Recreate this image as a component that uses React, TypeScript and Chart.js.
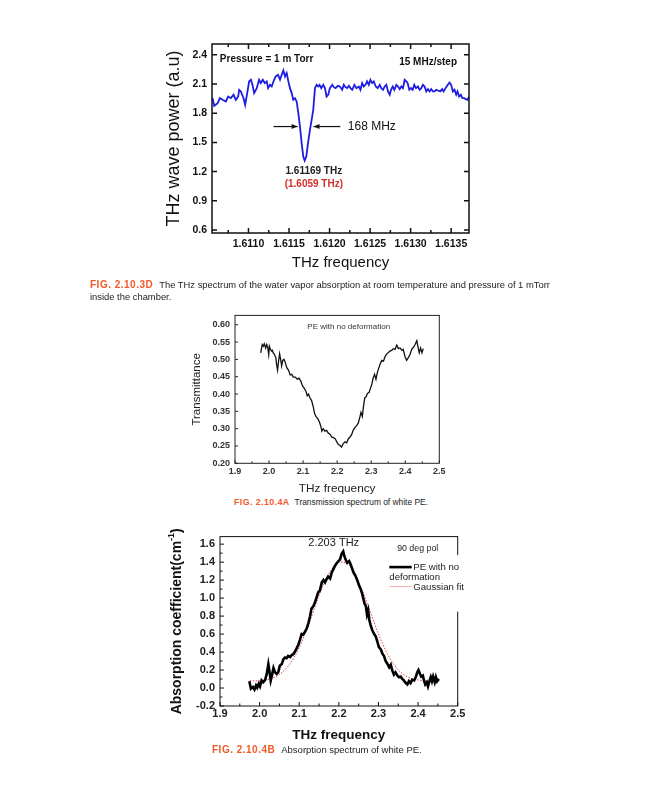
import React, { useEffect, useRef } from "react";
import { Chart, registerables } from "chart.js";
Chart.register(...registerables);

const FONT = '"Liberation Sans", Arial, Helvetica, sans-serif';

// ---------------- FIG. 2.10.3D : water vapour absorption ----------------
const WV_FREQ = [
  1.610557, 1.610578, 1.610619, 1.610648, 1.61068, 1.610721, 1.61075, 1.610783, 1.610816, 1.610844,
  1.610873, 1.610885, 1.610906, 1.610939, 1.610959, 1.610988, 1.611008, 1.611029, 1.611049, 1.61107,
  1.611102, 1.611131, 1.611152, 1.611176, 1.611201, 1.611225, 1.611242, 1.611266, 1.611287, 1.611316,
  1.611336, 1.611365, 1.611389, 1.61141, 1.61143, 1.611451, 1.611471, 1.611492, 1.611512, 1.611533,
  1.611553, 1.611574, 1.611594, 1.611615, 1.611635, 1.611656, 1.611676, 1.611693, 1.611713, 1.611734,
  1.611758, 1.611779, 1.611799, 1.61182, 1.61184, 1.611861, 1.611877, 1.611898, 1.611922, 1.611943,
  1.611963, 1.611984, 1.612004, 1.612033, 1.612053, 1.612074, 1.612103, 1.612127, 1.612156, 1.612176,
  1.612197, 1.612217, 1.612238, 1.612258, 1.612279, 1.612307, 1.612332, 1.612361, 1.612381, 1.612402,
  1.612422, 1.612443, 1.612463, 1.612484, 1.612504, 1.612525, 1.612545, 1.61257, 1.612594, 1.612619,
  1.612639, 1.61266, 1.61268, 1.612701, 1.612721, 1.612742, 1.612758, 1.612779, 1.612799, 1.612824,
  1.612844, 1.612865, 1.612885, 1.612906, 1.612926, 1.612947, 1.612963, 1.612984, 1.613004, 1.613025,
  1.613045, 1.613066, 1.61309, 1.613111, 1.613131, 1.613152, 1.613172, 1.613193, 1.613213, 1.613234,
  1.613254, 1.613275, 1.613295, 1.613316, 1.613336, 1.613365, 1.613389, 1.613406, 1.61343, 1.613459,
  1.61348, 1.6135, 1.613521, 1.613541, 1.613562, 1.613578, 1.613598, 1.613619, 1.613639, 1.61366,
  1.61368, 1.613701, 1.613725,
];
const WV_POWER = [
  1.954, 1.875, 1.903, 1.954, 1.937, 1.92, 1.971, 1.954, 1.989, 1.937,
  1.971, 2.04, 2.023, 1.954, 1.886, 2.023, 2.126, 2.143, 2.091, 2.006,
  2.057, 2.143, 2.109, 2.143, 2.109, 2.126, 2.057, 2.091, 2.074, 2.143,
  2.177, 2.194, 2.143, 2.194, 2.239, 2.177, 2.211, 2.126, 2.057, 2.006,
  1.937, 1.954, 1.92, 1.8, 1.663, 1.491, 1.354, 1.313, 1.354, 1.491,
  1.629, 1.731, 1.834, 2.057, 2.091, 2.074, 2.091, 2.057, 2.091, 2.057,
  1.971, 1.989, 2.057, 2.091, 2.067, 2.057, 2.081, 2.074, 2.04, 2.091,
  2.067, 2.057, 2.081, 2.057, 2.04, 2.091, 2.057, 2.074, 2.04, 2.109,
  2.074, 2.091, 2.126, 2.091, 2.143, 2.109, 2.126, 2.074, 2.057, 2.091,
  2.057, 2.04, 2.074, 2.091, 2.023, 1.989, 2.04, 2.074, 2.04, 2.091,
  2.074, 2.047, 2.074, 2.057, 2.143, 2.126, 2.109, 2.04, 2.057, 2.04,
  2.091, 2.057, 2.074, 2.04, 2.057, 2.091, 2.074, 2.023, 2.047, 2.023,
  2.047, 2.023, 2.023, 2.04, 2.033, 2.023, 2.047, 2.023, 2.057, 2.091,
  2.115, 2.091, 2.023, 2.04, 1.989, 2.023, 1.971, 1.989, 1.954, 1.954,
  1.944, 1.937, 1.971,
];
const WV_Y_TICKS = [0.6, 0.9, 1.2, 1.5, 1.8, 2.1, 2.4];
const WV_X_TICKS = [1.611, 1.6115, 1.612, 1.6125, 1.613, 1.6135];
const WV_X_MINOR = [1.61075, 1.61125, 1.61175, 1.61225, 1.61275, 1.61325];

// ---------------- FIG. 2.10.4A : transmittance of white PE ----------------
const TR_FREQ = [
  1.9755, 1.98, 1.983, 1.986, 1.99, 1.993, 1.996, 1.999, 2.001, 2.004,
  2.007, 2.01, 2.012, 2.015, 2.02, 2.022, 2.025, 2.028, 2.031, 2.034,
  2.037, 2.04, 2.044, 2.048, 2.052, 2.057, 2.062, 2.067, 2.071, 2.077,
  2.083, 2.088, 2.093, 2.098, 2.103, 2.108, 2.112, 2.116, 2.12, 2.125,
  2.13, 2.134, 2.138, 2.143, 2.148, 2.152, 2.155, 2.159, 2.164, 2.169,
  2.174, 2.179, 2.184, 2.189, 2.194, 2.199, 2.203, 2.208, 2.213, 2.218,
  2.223, 2.228, 2.233, 2.238, 2.243, 2.247, 2.252, 2.257, 2.262, 2.267,
  2.27, 2.274, 2.277, 2.281, 2.285, 2.289, 2.294, 2.298, 2.302, 2.306,
  2.31, 2.314, 2.318, 2.322, 2.326, 2.331, 2.336, 2.341, 2.346, 2.35,
  2.355, 2.36, 2.365, 2.37, 2.375, 2.38, 2.385, 2.39, 2.394, 2.399,
  2.404, 2.409, 2.414, 2.419, 2.424, 2.429, 2.434, 2.437, 2.441, 2.445,
  2.449, 2.453,
];
const TR_VALUE = [
  0.519, 0.543, 0.538, 0.545, 0.533, 0.543, 0.535, 0.514, 0.538, 0.529,
  0.524, 0.526, 0.519, 0.516, 0.505, 0.486, 0.469, 0.495, 0.516, 0.5,
  0.481, 0.497, 0.5, 0.49, 0.476, 0.469, 0.455, 0.457, 0.449, 0.449,
  0.443, 0.446, 0.438, 0.424, 0.417, 0.409, 0.395, 0.4, 0.389, 0.381,
  0.362, 0.343, 0.335, 0.329, 0.319, 0.307, 0.293, 0.3, 0.293, 0.295,
  0.287, 0.284, 0.276, 0.274, 0.271, 0.262, 0.255, 0.252, 0.247, 0.257,
  0.262, 0.259, 0.271, 0.276, 0.284, 0.295, 0.303, 0.309, 0.316, 0.335,
  0.347, 0.335, 0.362, 0.389, 0.392, 0.402, 0.405, 0.417, 0.429, 0.447,
  0.457, 0.443, 0.462, 0.474, 0.486, 0.497, 0.495, 0.509, 0.516, 0.519,
  0.524, 0.526, 0.531, 0.529, 0.541, 0.531, 0.533, 0.526, 0.529, 0.509,
  0.497, 0.505, 0.514, 0.529, 0.535, 0.543, 0.554, 0.538, 0.519, 0.533,
  0.519, 0.531,
];
const TR_Y_TICKS = [0.2, 0.25, 0.3, 0.35, 0.4, 0.45, 0.5, 0.55, 0.6];
const PE_X_TICKS = [1.9, 2.0, 2.1, 2.2, 2.3, 2.4, 2.5];
const PE_X_MINOR = [1.95, 2.05, 2.15, 2.25, 2.35, 2.45];

// ---------------- FIG. 2.10.4B : absorption of white PE ----------------
const AB_FREQ = [
  1.974, 1.978, 1.983, 1.987, 1.991, 1.994, 1.998, 2.001, 2.005, 2.009,
  2.014, 2.018, 2.022, 2.024, 2.028, 2.031, 2.035, 2.039, 2.043, 2.047,
  2.051, 2.056, 2.06, 2.064, 2.068, 2.072, 2.077, 2.081, 2.085, 2.089,
  2.094, 2.098, 2.102, 2.106, 2.11, 2.115, 2.119, 2.123, 2.127, 2.131,
  2.136, 2.14, 2.144, 2.148, 2.152, 2.157, 2.161, 2.165, 2.169, 2.173,
  2.178, 2.182, 2.186, 2.19, 2.194, 2.199, 2.203, 2.207, 2.211, 2.214,
  2.217, 2.221, 2.226, 2.23, 2.234, 2.238, 2.242, 2.247, 2.251, 2.255,
  2.259, 2.262, 2.265, 2.268, 2.271, 2.274, 2.277, 2.28, 2.284, 2.289,
  2.293, 2.297, 2.301, 2.306, 2.31, 2.314, 2.318, 2.322, 2.327, 2.331,
  2.335, 2.339, 2.343, 2.348, 2.352, 2.356, 2.36, 2.364, 2.369, 2.373,
  2.377, 2.381, 2.385, 2.39, 2.394, 2.398, 2.401, 2.405, 2.408, 2.412,
  2.415, 2.418, 2.422, 2.425, 2.428, 2.432, 2.435, 2.438, 2.442, 2.445,
  2.448, 2.452,
];
const AB_VALUE = [
  0.076, -0.007, 0.011, -0.018, 0.029, 0.004, 0.048, 0.018, 0.084, 0.065,
  0.091, 0.157, 0.266, 0.211, 0.084, 0.138, 0.222, 0.174, 0.157, 0.174,
  0.247, 0.266, 0.32, 0.338, 0.331, 0.356, 0.345, 0.367, 0.375, 0.403,
  0.447, 0.484, 0.539, 0.6, 0.593, 0.629, 0.665, 0.72, 0.793, 0.883,
  0.913, 0.956, 1.011, 1.065, 1.084, 1.175, 1.2, 1.175, 1.211, 1.24,
  1.218, 1.284, 1.32, 1.357, 1.385, 1.411, 1.429, 1.494, 1.52, 1.466,
  1.429, 1.393, 1.411, 1.374, 1.32, 1.276, 1.248, 1.193, 1.139, 1.102,
  1.047, 0.992, 0.938, 0.913, 0.818, 0.866, 0.757, 0.702, 0.648, 0.6,
  0.575, 0.52, 0.455, 0.429, 0.382, 0.356, 0.302, 0.273, 0.229, 0.258,
  0.193, 0.149, 0.174, 0.138, 0.12, 0.127, 0.102, 0.084, 0.055, 0.04,
  0.076, 0.055, 0.091, 0.084, 0.12, 0.174, 0.2, 0.157, 0.127, 0.138,
  0.084, 0.04, 0.065, 0.018, 0.065, 0.12, 0.076, 0.127, 0.065, 0.12,
  0.076, 0.102,
];
const FIT_FREQ = [
  1.975, 2.0, 2.025, 2.05, 2.075, 2.1, 2.125, 2.15, 2.175, 2.2,
  2.225, 2.25, 2.275, 2.3, 2.325, 2.35, 2.375, 2.4, 2.425, 2.455,
];
const FIT_VALUE = [
  0.08, 0.08, 0.1, 0.15, 0.26, 0.45, 0.72, 1.03, 1.27, 1.4,
  1.37, 1.18, 0.9, 0.6, 0.36, 0.2, 0.12, 0.09, 0.08, 0.08,
];
const AB_Y_TICKS = [-0.2, 0, 0.2, 0.4, 0.6, 0.8, 1.0, 1.2, 1.4, 1.6];
const AB_Y_MINOR = [-0.1, 0.1, 0.3, 0.5, 0.7, 0.9, 1.1, 1.3, 1.5];

// ---------------- helpers ----------------
type Ticks = { values: number[]; len: number };
function drawFrame(
  chart: any,
  color: string,
  width: number,
  xTicks: Ticks[],
  yTicks: Ticks[],
  xSides: string[],
  ySides: string[]
) {
  const { ctx, chartArea: a, scales } = chart;
  const xs = scales.x;
  const ys = scales.y;
  ctx.save();
  ctx.strokeStyle = color;
  ctx.lineWidth = width;
  ctx.beginPath();
  for (const t of xTicks) {
    for (const v of t.values) {
      const px = xs.getPixelForValue(v);
      if (px < a.left - 0.5 || px > a.right + 0.5) continue;
      if (xSides.includes("bottom")) {
        ctx.moveTo(px, a.bottom);
        ctx.lineTo(px, a.bottom - t.len);
      }
      if (xSides.includes("top")) {
        ctx.moveTo(px, a.top);
        ctx.lineTo(px, a.top + t.len);
      }
    }
  }
  for (const t of yTicks) {
    for (const v of t.values) {
      const py = ys.getPixelForValue(v);
      if (py < a.top - 0.5 || py > a.bottom + 0.5) continue;
      if (ySides.includes("left")) {
        ctx.moveTo(a.left, py);
        ctx.lineTo(a.left + t.len, py);
      }
      if (ySides.includes("right")) {
        ctx.moveTo(a.right, py);
        ctx.lineTo(a.right - t.len, py);
      }
    }
  }
  ctx.stroke();
  ctx.strokeRect(a.left, a.top, a.right - a.left, a.bottom - a.top);
  ctx.restore();
}

function label(ctx: any, s: string, x: number, y: number, font: string, color: string, align = "left") {
  ctx.save();
  ctx.font = font;
  ctx.fillStyle = color;
  ctx.textAlign = align;
  ctx.textBaseline = "middle";
  ctx.fillText(s, x, y);
  ctx.restore();
}

function arrow(ctx: any, x1: number, x2: number, y: number) {
  ctx.save();
  ctx.strokeStyle = "#111";
  ctx.fillStyle = "#111";
  ctx.lineWidth = 1.2;
  ctx.beginPath();
  ctx.moveTo(x1, y);
  ctx.lineTo(x2, y);
  ctx.stroke();
  const d = Math.sign(x2 - x1);
  ctx.beginPath();
  ctx.moveTo(x2, y);
  ctx.lineTo(x2 - d * 6, y - 2.5);
  ctx.lineTo(x2 - d * 6, y + 2.5);
  ctx.closePath();
  ctx.fill();
  ctx.restore();
}

function fixedTicks(values: number[]) {
  return (s: any) => {
    s.ticks = values.map((v) => ({ value: v }));
  };
}

function pairs(xs: number[], ys: number[]) {
  return xs.map((x, i) => ({ x, y: ys[i] }));
}

// ---------------- chart configs ----------------
function waterConfig(): any {
  return {
    type: "line",
    data: {
      datasets: [
        {
          data: pairs(WV_FREQ, WV_POWER),
          borderColor: "#1c1ce2",
          borderWidth: 1.8,
          pointRadius: 0,
          tension: 0,
        },
      ],
    },
    options: {
      animation: false,
      responsive: false,
      devicePixelRatio: 1,
      layout: { padding: { left: 0, top: 14, right: 21, bottom: 0 } },
      plugins: { legend: { display: false }, tooltip: { enabled: false } },
      scales: {
        x: {
          type: "linear",
          min: 1.61055,
          max: 1.61372,
          grid: { display: false, drawTicks: false },
          border: { display: false },
          afterBuildTicks: fixedTicks(WV_X_TICKS),
          afterFit: (s: any) => {
            s.height = 47;
          },
          ticks: {
            callback: (v: any) => Number(v).toFixed(4),
            color: "#111",
            font: { family: FONT, size: 10.5, weight: "bold" },
            padding: 4.5,
            maxRotation: 0,
            minRotation: 0,
            autoSkip: false,
          },
          title: {
            display: true,
            text: "THz frequency",
            color: "#111",
            font: { family: FONT, size: 15 },
            padding: { top: 0, bottom: 8 },
          },
        },
        y: {
          type: "linear",
          min: 0.57,
          max: 2.51,
          grid: { display: false, drawTicks: false },
          border: { display: false },
          afterBuildTicks: fixedTicks(WV_Y_TICKS),
          afterFit: (s: any) => {
            s.width = 62;
          },
          ticks: {
            callback: (v: any) => Number(v).toFixed(1),
            color: "#111",
            font: { family: FONT, size: 10.5, weight: "bold" },
            padding: 5,
            autoSkip: false,
          },
          title: {
            display: true,
            text: "THz wave power (a.u)",
            color: "#111",
            font: { family: FONT, size: 18 },
            padding: { top: 13, bottom: 0 },
          },
        },
      },
    },
    plugins: [
      {
        id: "waterDecor",
        afterDraw(chart: any) {
          const { ctx, scales } = chart;
          const X = (v: number) => scales.x.getPixelForValue(v);
          const Y = (v: number) => scales.y.getPixelForValue(v);
          drawFrame(
            chart,
            "#111",
            1.5,
            [
              { values: WV_X_TICKS, len: 5 },
              { values: WV_X_MINOR, len: 3 },
            ],
            [{ values: WV_Y_TICKS, len: 5 }],
            ["bottom", "top"],
            ["left", "right"]
          );
          const bold10 = `bold 10px ${FONT}`;
          label(ctx, "Pressure = 1 m Torr", X(1.610647), Y(2.356), bold10, "#111");
          label(ctx, "15 MHz/step", X(1.612859), Y(2.325), bold10, "#111");
          arrow(ctx, X(1.61131), X(1.611606), Y(1.6626));
          arrow(ctx, X(1.612133), X(1.611802), Y(1.6626));
          label(ctx, "168 MHz", X(1.612225), Y(1.6626), `12px ${FONT}`, "#111");
          label(ctx, "1.61169 THz", X(1.611806), Y(1.2), bold10, "#222", "center");
          label(ctx, "(1.6059 THz)", X(1.611806), Y(1.07), bold10, "#d42d2a", "center");
        },
      },
    ],
  };
}

function transConfig(): any {
  return {
    type: "line",
    data: {
      datasets: [
        {
          data: pairs(TR_FREQ, TR_VALUE),
          borderColor: "#111",
          borderWidth: 1.3,
          pointRadius: 0,
          tension: 0,
        },
      ],
    },
    options: {
      animation: false,
      responsive: false,
      devicePixelRatio: 1,
      layout: { padding: { left: 0, top: 9, right: 10.7, bottom: 0 } },
      plugins: { legend: { display: false }, tooltip: { enabled: false } },
      scales: {
        x: {
          type: "linear",
          min: 1.9,
          max: 2.5,
          grid: { display: false, drawTicks: false },
          border: { display: false },
          afterBuildTicks: fixedTicks(PE_X_TICKS),
          afterFit: (s: any) => {
            s.height = 33.7;
          },
          ticks: {
            callback: (v: any) => Number(v).toFixed(1),
            color: "#333",
            font: { family: FONT, size: 9, weight: "bold" },
            padding: 3,
            maxRotation: 0,
            minRotation: 0,
            autoSkip: false,
          },
          title: {
            display: true,
            text: "THz frequency",
            color: "#222",
            font: { family: FONT, size: 11.8 },
            padding: { top: 0, bottom: 0.9 },
          },
        },
        y: {
          type: "linear",
          min: 0.2,
          max: 0.627,
          grid: { display: false, drawTicks: false },
          border: { display: false },
          afterBuildTicks: fixedTicks(TR_Y_TICKS),
          afterFit: (s: any) => {
            s.width = 50;
          },
          ticks: {
            callback: (v: any) => Number(v).toFixed(2),
            color: "#333",
            font: { family: FONT, size: 9, weight: "bold" },
            padding: 5,
            autoSkip: false,
          },
          title: {
            display: true,
            text: "Transmittance",
            color: "#222",
            font: { family: FONT, size: 11.5 },
            padding: { top: 4.8, bottom: 0 },
          },
        },
      },
    },
    plugins: [
      {
        id: "transDecor",
        afterDraw(chart: any) {
          const { ctx, scales } = chart;
          drawFrame(
            chart,
            "#222",
            1,
            [
              { values: PE_X_TICKS, len: 3 },
              { values: PE_X_MINOR, len: 2 },
            ],
            [{ values: TR_Y_TICKS, len: 3 }],
            ["bottom"],
            ["left"]
          );
          label(
            ctx,
            "PE with no deformation",
            scales.x.getPixelForValue(2.234),
            scales.y.getPixelForValue(0.595),
            `8px ${FONT}`,
            "#333",
            "center"
          );
        },
      },
    ],
  };
}

function absConfig(): any {
  return {
    type: "line",
    data: {
      datasets: [
        {
          label: "PE with no deformation",
          data: pairs(AB_FREQ, AB_VALUE),
          borderColor: "#000",
          borderWidth: 2.6,
          pointRadius: 0,
          tension: 0,
        },
        {
          label: "Gaussian fit",
          data: pairs(FIT_FREQ, FIT_VALUE),
          borderColor: "#e23a3a",
          borderWidth: 1,
          borderDash: [1.5, 1.5],
          pointRadius: 0,
          cubicInterpolationMode: "monotone",
        },
      ],
    },
    options: {
      animation: false,
      responsive: false,
      devicePixelRatio: 1,
      layout: { padding: { left: 0, top: 8.3, right: 17.3, bottom: 0 } },
      plugins: { legend: { display: false }, tooltip: { enabled: false } },
      scales: {
        x: {
          type: "linear",
          min: 1.9,
          max: 2.5,
          grid: { display: false, drawTicks: false },
          border: { display: false },
          afterBuildTicks: fixedTicks(PE_X_TICKS),
          afterFit: (s: any) => {
            s.height = 39;
          },
          ticks: {
            callback: (v: any) => Number(v).toFixed(1),
            color: "#222",
            font: { family: FONT, size: 11, weight: "bold" },
            padding: 1.5,
            maxRotation: 0,
            minRotation: 0,
            autoSkip: false,
          },
          title: {
            display: true,
            text: "THz frequency",
            color: "#111",
            font: { family: FONT, size: 13.5, weight: "bold" },
            padding: { top: 0, bottom: 1.9 },
          },
        },
        y: {
          type: "linear",
          min: -0.2,
          max: 1.684,
          grid: { display: false, drawTicks: false },
          border: { display: false },
          afterBuildTicks: fixedTicks(AB_Y_TICKS),
          afterFit: (s: any) => {
            s.width = 55;
          },
          ticks: {
            callback: (v: any) => Number(v).toFixed(1),
            color: "#222",
            font: { family: FONT, size: 11, weight: "bold" },
            padding: 5,
            autoSkip: false,
          },
        },
      },
    },
    plugins: [
      {
        id: "absDecor",
        afterDraw(chart: any) {
          const { ctx, scales, chartArea: a } = chart;
          const X = (v: number) => scales.x.getPixelForValue(v);
          const Y = (v: number) => scales.y.getPixelForValue(v);
          drawFrame(
            chart,
            "#111",
            1,
            [
              { values: PE_X_TICKS, len: 4 },
              { values: PE_X_MINOR, len: 2.5 },
            ],
            [
              { values: AB_Y_TICKS, len: 4 },
              { values: AB_Y_MINOR, len: 2.5 },
            ],
            ["bottom"],
            ["left"]
          );
          // y-axis title with superscript
          ctx.save();
          ctx.translate(11.7, (a.top + a.bottom) / 2);
          ctx.rotate(-Math.PI / 2);
          const main = `bold 14px ${FONT}`;
          const sup = `bold 9px ${FONT}`;
          const p1 = "Absorption coefficient(cm";
          const p2 = "-1";
          const p3 = ")";
          ctx.font = main;
          const w1 = ctx.measureText(p1).width;
          const w3 = ctx.measureText(p3).width;
          ctx.font = sup;
          const w2 = ctx.measureText(p2).width;
          let x = -(w1 + w2 + w3) / 2;
          ctx.textBaseline = "middle";
          ctx.fillStyle = "#111";
          ctx.font = main;
          ctx.fillText(p1, x, 0);
          x += w1;
          ctx.font = sup;
          ctx.fillText(p2, x, -5);
          x += w2;
          ctx.font = main;
          ctx.fillText(p3, x, 0);
          ctx.restore();

          label(ctx, "2.203 THz", X(2.187), Y(1.611), `11px ${FONT}`, "#222", "center");
          label(ctx, "90 deg pol", X(2.399), Y(1.556), `8.8px ${FONT}`, "#222", "center");

          // legend
          ctx.save();
          ctx.fillStyle = "#fff";
          ctx.fillRect(a.right - 72, a.top + 18.5, 86, 56.5);
          ctx.strokeStyle = "#000";
          ctx.lineWidth = 2.6;
          ctx.beginPath();
          ctx.moveTo(a.right - 68.4, a.top + 30.5);
          ctx.lineTo(a.right - 46, a.top + 30.5);
          ctx.stroke();
          ctx.strokeStyle = "#f2b0a8";
          ctx.lineWidth = 1;
          ctx.beginPath();
          ctx.moveTo(a.right - 68.4, a.top + 50);
          ctx.lineTo(a.right - 46, a.top + 50);
          ctx.stroke();
          ctx.restore();
          const f10 = `9.6px ${FONT}`;
          label(ctx, "PE with no", a.right - 44.4, a.top + 30.5, f10, "#222");
          label(ctx, "deformation", a.right - 68.4, a.top + 40.5, f10, "#222");
          label(ctx, "Gaussian fit", a.right - 44.4, a.top + 50.5, f10, "#222");
        },
      },
    ],
  };
}

// ---------------- components ----------------
function ChartBox(props: { left: number; top: number; width: number; height: number; make: () => any }) {
  const ref = useRef<HTMLCanvasElement>(null);
  useEffect(() => {
    const chart = new Chart(ref.current as HTMLCanvasElement, props.make());
    return () => chart.destroy();
  }, []);
  return (
    <canvas
      ref={ref}
      width={props.width}
      height={props.height}
      style={{
        position: "absolute",
        left: props.left,
        top: props.top,
        width: props.width,
        height: props.height,
      }}
    />
  );
}

const figStyle: React.CSSProperties = {
  color: "#f15a29",
  fontWeight: "bold",
  fontSize: 10,
  letterSpacing: 0.5,
  marginRight: 6,
};
const capStyle: React.CSSProperties = {
  position: "absolute",
  font: `9.5px/11.7px ${FONT}`,
  color: "#222",
  whiteSpace: "nowrap",
};

export default function App() {
  return (
    <div
      style={{
        position: "absolute",
        left: 0,
        top: 0,
        width: 648,
        height: 800,
        background: "#fff",
        overflow: "hidden",
      }}
    >
      <ChartBox left={150} top={30} width={340} height={250} make={waterConfig} />
      <div style={{ ...capStyle, left: 90, top: 279, fontSize: 9.38 }}>
        <span style={figStyle}>FIG. 2.10.3D</span>
        The THz spectrum of the water vapor absorption at room temperature and pressure of 1 mTorr
        <br />
        inside the chamber.
      </div>
      <ChartBox left={185} top={305} width={265} height={192} make={transConfig} />
      <div style={{ ...capStyle, left: 234, top: 497, fontSize: 8.4 }}>
        <span style={{ ...figStyle, fontSize: 8.9, letterSpacing: 0.4, marginRight: 5 }}>FIG. 2.10.4A</span>
        Transmission spectrum of white PE.
      </div>
      <ChartBox left={165} top={525} width={310} height={220} make={absConfig} />
      <div style={{ ...capStyle, left: 212, top: 743.5 }}>
        <span style={figStyle}>FIG. 2.10.4B</span>
        Absorption spectrum of white PE.
      </div>
    </div>
  );
}
